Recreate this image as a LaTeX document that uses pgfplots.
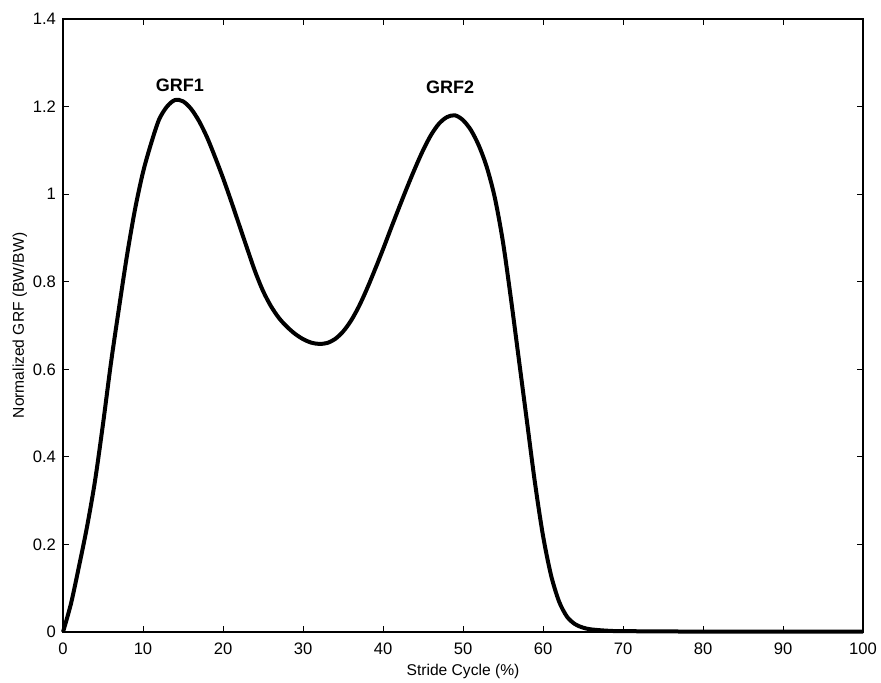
\documentclass[border=0pt]{standalone}
\usepackage{pgfplots}
\pgfplotsset{compat=1.18}
\usepackage{fontspec}
\setmainfont{Liberation Sans}

\begin{document}
\begin{tikzpicture}
\begin{axis}[
  scale only axis, width=400pt, height=306.5pt,
  xmin=0, xmax=100, ymin=0, ymax=1.4,
  xtick={0,10,...,100}, ytick={0,0.2,...,1.4},
  tick align=inside, major tick length=3pt,
  axis line style={line width=0.6pt},
  every tick/.style={line width=0.5pt},
  font=\fontsize{8.3}{10}\selectfont,
  /pgf/number format/assume math mode=true,
  yticklabel style={/pgf/number format/fixed},
  xticklabel style={yshift=-2pt},
  xlabel={Stride Cycle (\%)}, ylabel={Normalized GRF (BW/BW)},
  xlabel style={font=\fontsize{7.8}{9}\selectfont, yshift=2pt},
  ylabel style={font=\fontsize{7.8}{9}\selectfont, yshift=-4pt},
  clip=false,
]
% vertical ground reaction force over one stride
\addplot[black, line width=2pt, smooth] coordinates {
(0,0)(1,0.065)(2,0.15)(3,0.24)(4,0.345)(5,0.475)(6,0.615)(7,0.74)(8,0.86)
(9,0.965)(10,1.05)(11,1.115)(12,1.17)(13,1.2)(14,1.215)(15,1.212)(16,1.195)
(17,1.167)(18,1.13)(19,1.085)(20,1.037)(21,0.985)(22,0.931)(23,0.877)(24,0.824)
(25,0.779)(26,0.744)(27,0.717)(28,0.697)(29,0.681)(30,0.669)(31,0.661)(32,0.658)
(33,0.66)(34,0.669)(35,0.686)(36,0.711)(37,0.744)(38,0.784)(39,0.828)(40,0.874)
(41,0.922)(42,0.969)(43,1.015)(44,1.059)(45,1.1)(46,1.135)(47,1.161)(48,1.176)
(49,1.18)(50,1.169)(51,1.146)(52,1.11)(53,1.06)(54,0.99)(55,0.89)(56,0.76)
(57,0.62)(58,0.48)(59,0.34)(60,0.22)(61,0.13)(62,0.07)(63,0.035)(64,0.018)
(65,0.01)(66,0.006)(68,0.003)(70,0.002)(80,0.001)(100,0.001)
};
\node[font=\bfseries\fontsize{9}{10}\selectfont] at (axis cs:14.6,1.249) {GRF1};
\node[font=\bfseries\fontsize{9}{10}\selectfont] at (axis cs:48.4,1.243) {GRF2};
\end{axis}
\pgfresetboundingbox
\path[use as bounding box] (current axis.south west) ++(-31.5pt,-25pt)
  rectangle ([xshift=9pt,yshift=9.5pt]current axis.north east);
\end{tikzpicture}
\end{document}
